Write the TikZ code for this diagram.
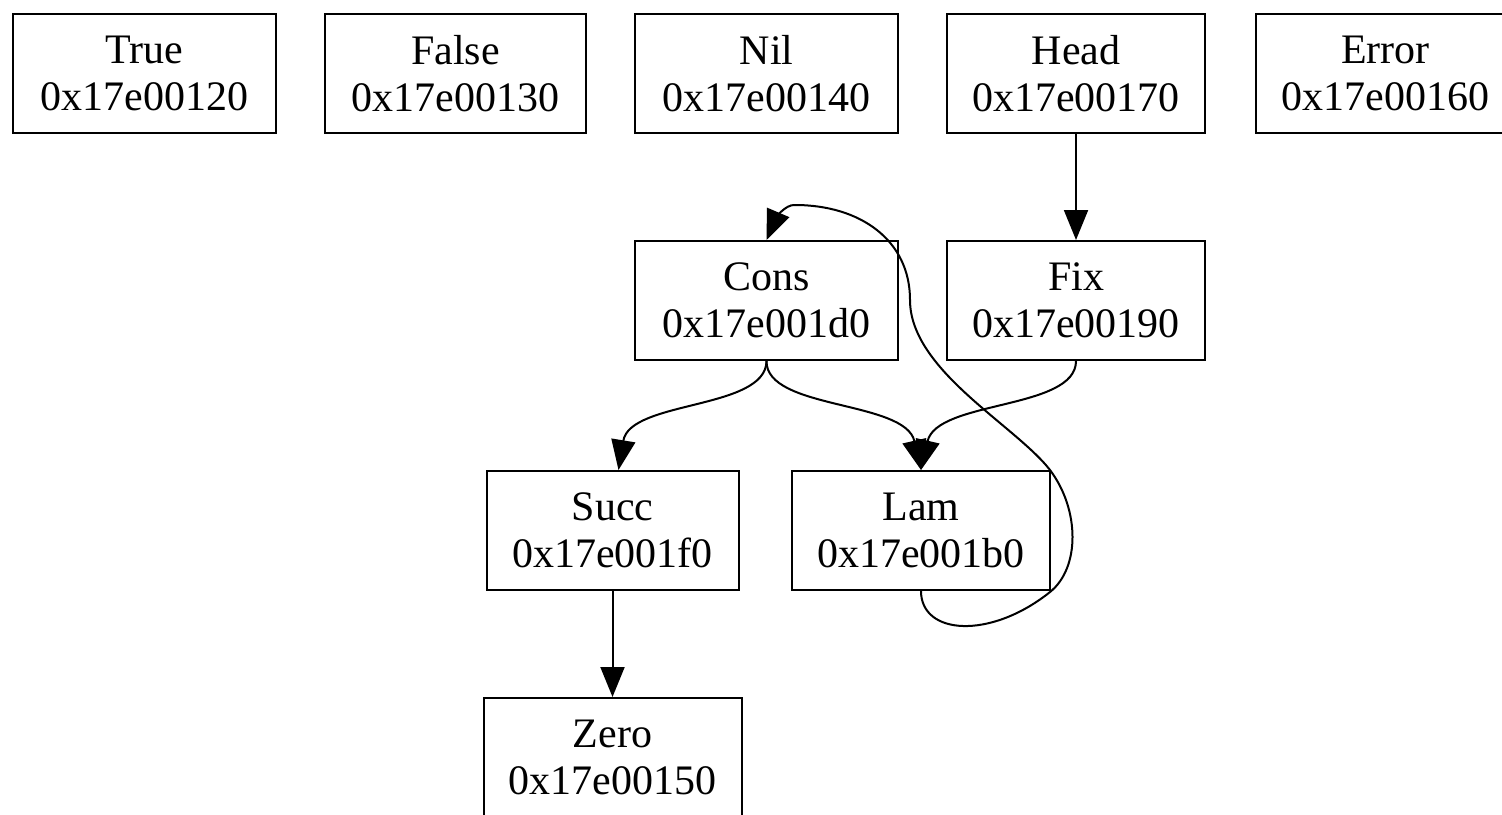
\documentclass[tikz,border=0pt]{standalone}
\usepackage{fontspec}
\setmainfont{Liberation Serif}
\usetikzlibrary{arrows.meta}
\begin{document}
\begin{tikzpicture}[x=0.5pt,y=-0.5pt,
  box/.style={draw=black,line width=1pt,rectangle,minimum height=59.5pt,inner sep=0pt,
    align=center,font=\fontsize{21}{23.5}\selectfont,fill=white},
  edge/.style={draw=black,line width=1pt,-{Triangle[length=15pt,width=12pt]}}]
\clip (0,0) rectangle (1502,814);
\fill[white] (0,0) rectangle (1502,814);
\node[box,minimum width=131.5pt] (true)  at (144.5,73.5) {True\\0x17e00120};
\node[box,minimum width=130.5pt] (false) at (455.5,73.5) {False\\0x17e00130};
\node[box,minimum width=131.5pt] (nil)   at (766.5,73.5) {Nil\\0x17e00140};
\node[box,minimum width=129pt]   (head)  at (1076,73.5) {Head\\0x17e00170};
\node[box,minimum width=129.5pt] (error) at (1385.5,73.5) {Error\\0x17e00160};
\node[box,minimum width=131.5pt] (cons)  at (766.5,300.5) {Cons\\0x17e001d0};
\node[box,minimum width=129pt]   (fix)   at (1076,300.5) {Fix\\0x17e00190};
\node[box,minimum width=126pt]   (succ)  at (612.5,530.5) {Succ\\0x17e001f0};
\node[box,minimum width=129pt]   (lam)   at (921,530.5) {Lam\\0x17e001b0};
\node[box,minimum width=129pt]   (zero)  at (612.5,757.5) {Zero\\0x17e00150};
\draw[edge] (head.south) -- (fix.north);
\draw[edge] (succ.south) -- (zero.north);
\draw[edge] (cons.south) .. controls (766,410) and (630,400) .. ([xshift=3pt]succ.north);
\draw[edge] (cons.south) .. controls (766,410) and (905,400) .. (lam.north);
\draw[edge] (fix.south) .. controls (1076,410) and (937,400) .. (lam.north);
\draw[edge] (lam.south) .. controls (921,635) and (990,640) .. (1050,592)
  .. controls (1080,568) and (1080,510) .. (1050,470)
  .. controls (1015,425) and (910,370) .. (910,300)
  .. controls (910,240) and (860,205) .. (795,205)
  .. controls (785,204) and (775,220) .. (cons.north);
\end{tikzpicture}
\end{document}
